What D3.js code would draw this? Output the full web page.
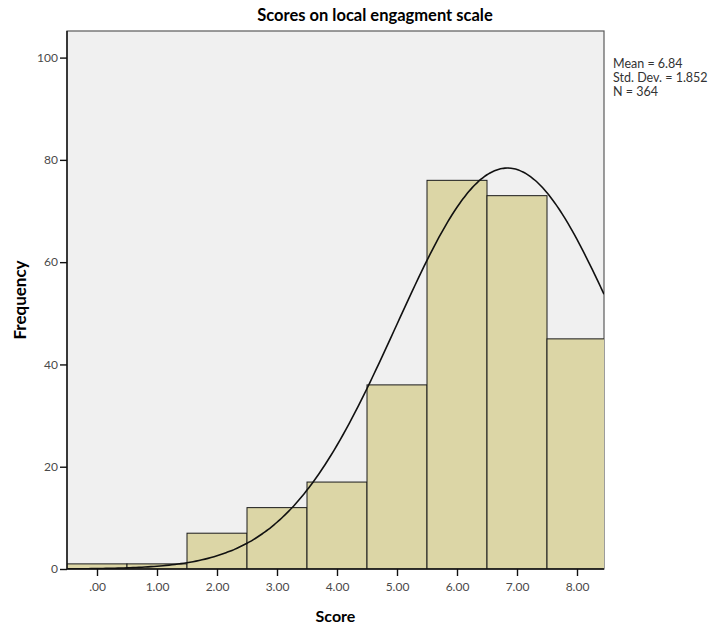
<!DOCTYPE html>
<html>
<head>
<meta charset="utf-8">
<script src="https://cdn.jsdelivr.net/npm/d3@7"></script>
<style>
  body { margin: 0; background: #fff; }
  svg text { font-family: Lato, "Open Sans", sans-serif; }
</style>
</head>
<body>
<div id="chart"></div>
<script>
// bin centres and frequencies
var binCenters = [0, 1, 2, 3, 4, 5, 6, 7, 8];
var frequencies = [1, 1, 7, 12, 17, 36, 76, 73, 45];
var yTicks = [0, 20, 40, 60, 80, 100];
var xTickLabels = [".00", "1.00", "2.00", "3.00", "4.00", "5.00", "6.00", "7.00", "8.00"];
var statsLines = ["Mean = 6.84", "Std. Dev. = 1.852", "N = 364"];
var mean = 6.84, sd = 1.852, n = 364;

var width = 708, height = 625;
var margin = {top: 31, right: 104, bottom: 56, left: 67};
var plotW = width - margin.left - margin.right,
    plotH = height - margin.top - margin.bottom;

var svg = d3.select("#chart").append("svg")
    .attr("width", width)
    .attr("height", height);

var x = d3.scaleLinear().domain([-0.5, 8.45]).range([0, plotW]);
var y = d3.scaleLinear().domain([0, 105.2]).range([plotH, 0]);

var g = svg.append("g")
    .attr("transform", "translate(" + margin.left + "," + margin.top + ")");

// plot background
g.append("rect")
    .attr("x", 0).attr("y", 0)
    .attr("width", plotW).attr("height", plotH)
    .style("fill", "#f0f0f0")
    .style("stroke", "#5a5a5a")
    .style("stroke-width", 1.2);

g.append("defs").append("clipPath").attr("id", "clip")
    .append("rect").attr("width", plotW).attr("height", plotH);

// bars
g.append("g").attr("clip-path", "url(#clip)")
    .selectAll("rect")
    .data(binCenters)
    .enter().append("rect")
    .attr("x", function(d) { return x(d - 0.5); })
    .attr("y", function(d, i) { return y(frequencies[i]); })
    .attr("width", function(d) { return x(d + 0.5) - x(d - 0.5); })
    .attr("height", function(d, i) { return y(0) - y(frequencies[i]); })
    .style("fill", "#dcd6a6")
    .style("stroke", "#1a1a1a")
    .style("stroke-width", 1);

// normal curve from the stated mean, sd and N (bin width 1)
var curveX = d3.range(-0.5, 8.451, 0.05);
var line = d3.line()
    .x(function(d) { return x(d); })
    .y(function(d) {
        var z = (d - mean) / sd;
        return y(n / (sd * Math.sqrt(2 * Math.PI)) * Math.exp(-0.5 * z * z));
    })
    .curve(d3.curveBasis);

g.append("path")
    .datum(curveX)
    .attr("d", line)
    .attr("clip-path", "url(#clip)")
    .style("fill", "none")
    .style("stroke", "#111")
    .style("stroke-width", 1.6);

// axes
var yAxis = d3.axisLeft(y).tickValues(yTicks).tickSize(7).tickPadding(2);
var xAxis = d3.axisBottom(x).tickValues(binCenters)
    .tickFormat(function(d, i) { return xTickLabels[i]; })
    .tickSize(7).tickPadding(6);

var gy = g.append("g").call(yAxis);
var gx = g.append("g").attr("transform", "translate(0," + plotH + ")").call(xAxis);

[gy, gx].forEach(function(a) {
    a.select(".domain").style("stroke", "#111").style("stroke-width", 1.4);
    a.selectAll(".tick line").style("stroke", "#111").style("stroke-width", 1.4);
    a.selectAll(".tick text").style("font-size", "12px").style("fill", "#4a4a4a");
});
gy.select(".domain").attr("d", "M0," + plotH + "V0");
gx.select(".domain").attr("d", "M0,0H" + plotW);

// titles
svg.append("text")
    .attr("x", 375).attr("y", 21)
    .attr("text-anchor", "middle")
    .style("font-size", "16.5px").style("font-weight", "bold")
    .text("Scores on local engagment scale");

svg.append("text")
    .attr("x", margin.left + plotW / 2).attr("y", 622)
    .attr("text-anchor", "middle")
    .style("font-size", "16px").style("font-weight", "bold")
    .text("Score");

svg.append("text")
    .attr("transform", "translate(26," + (margin.top + plotH / 2) + ") rotate(-90)")
    .attr("text-anchor", "middle")
    .style("font-size", "17px").style("font-weight", "bold")
    .text("Frequency");

// stats box text
svg.append("g").selectAll("text")
    .data(statsLines)
    .enter().append("text")
    .attr("x", 613)
    .attr("y", function(d, i) { return 68 + i * 14; })
    .style("font-size", "12.5px")
    .style("fill", "#333")
    .text(function(d) { return d; });
</script>
</body>
</html>
